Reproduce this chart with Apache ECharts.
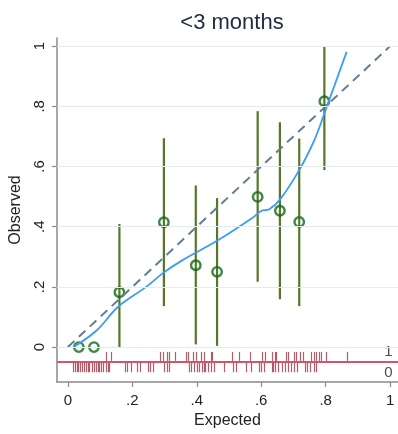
<!DOCTYPE html>
<html>
<head>
<meta charset="utf-8">
<script src="https://cdn.jsdelivr.net/npm/echarts@6/dist/echarts.min.js"></script>
<style>html,body{margin:0;padding:0;background:#fff}#c{width:398px;height:434px}</style>
</head>
<body>
<div id="c"></div>
<script>
// ---- data ----
var groupExpected = [0.034, 0.081, 0.160, 0.298, 0.397, 0.463, 0.589, 0.658, 0.718, 0.796];
var groupObserved = [0, 0, 0.182, 0.415, 0.272, 0.250, 0.499, 0.453, 0.416, 0.817];
var ciLow  = [null, null, 0.000, 0.136, 0.009, 0.004, 0.217, 0.159, 0.136, 0.588];
var ciHigh = [null, null, 0.409, 0.694, 0.537, 0.495, 0.784, 0.747, 0.693, 1.000];
var smoothX = [0.018, 0.09, 0.156, 0.243, 0.294, 0.356, 0.463, 0.571, 0.60, 0.625, 0.658, 0.718, 0.765, 0.796, 0.826, 0.865];
var smoothY = [0.0, 0.056, 0.134, 0.2, 0.245, 0.289, 0.353, 0.428, 0.452, 0.458, 0.49, 0.588, 0.688, 0.776, 0.865, 0.981];
var rugEvents = [0.119, 0.134, 0.286, 0.296, 0.307, 0.315, 0.333, 0.368, 0.373, 0.389, 0.399, 0.412, 0.424, 0.443, 0.448, 0.509, 0.530, 0.565, 0.601, 0.611, 0.632, 0.642, 0.647, 0.678, 0.683, 0.703, 0.709, 0.719, 0.729, 0.755, 0.763, 0.770, 0.780, 0.785, 0.801, 0.865];
var rugNonEvents = [0.016, 0.021, 0.027, 0.033, 0.039, 0.044, 0.049, 0.055, 0.061, 0.067, 0.074, 0.080, 0.086, 0.092, 0.098, 0.104, 0.110, 0.119, 0.124, 0.129,
  0.177, 0.182, 0.197, 0.215, 0.223, 0.248, 0.254, 0.264, 0.297, 0.307, 0.315,
  0.376, 0.381, 0.392, 0.402, 0.407, 0.415, 0.422, 0.427, 0.436, 0.443, 0.453,
  0.484, 0.514, 0.521, 0.552, 0.568, 0.593, 0.599, 0.610, 0.632, 0.637, 0.644, 0.652, 0.663, 0.673, 0.683, 0.693, 0.703, 0.712,
  0.736, 0.742, 0.752, 0.763, 0.770];
var tickValues = [0, 0.2, 0.4, 0.6, 0.8, 1];
var tickLabels = ['0', '.2', '.4', '.6', '.8', '1'];
var titleText = '<3 months';
var xTitle = 'Expected';
var yTitle = 'Observed';

// ---- chart ----
var FONT = 'Liberation Sans, Arial, Helvetica, sans-serif';
var chart = echarts.init(document.getElementById('c'), null, {renderer: 'canvas'});
function fmt(v) {
  for (var i = 0; i < tickValues.length; i++) if (Math.abs(v - tickValues[i]) < 1e-6) return tickLabels[i];
  return '';
}
var ciData = [];
for (var i = 0; i < groupExpected.length; i++) {
  if (ciLow[i] !== null) ciData.push([groupExpected[i], ciLow[i], ciHigh[i]]);
}
function rugItem(y, h) {
  return function (params, api) {
    var a = api.coord([api.value(0), y]);
    var x = Math.round(a[0]) + 0.5;
    return {type: 'line', shape: {x1: x, y1: a[1] - h / 2, x2: x, y2: a[1] + h / 2},
      style: {stroke: 'rgba(150,32,50,0.72)', lineWidth: 1.2}};
  };
}
var option = {
  animation: false,
  backgroundColor: '#ffffff',
  title: {
    text: titleText, left: 227, top: 7, textAlign: 'center',
    textStyle: {fontFamily: FONT, fontSize: 22, fontWeight: 'normal', color: '#1e2b40'}
  },
  grid: {left: 53, right: 0, top: 38, bottom: 52},
  xAxis: {
    type: 'value', min: -0.034, max: 1.0245,
    name: xTitle, nameLocation: 'middle', nameGap: 30,
    nameTextStyle: {fontFamily: FONT, fontSize: 16, color: '#222'},
    axisLine: {show: true, onZero: false, lineStyle: {color: '#8a8a8a', width: 1.5}},
    axisTick: {show: true, length: 5, customValues: tickValues, lineStyle: {color: '#8a8a8a', width: 1.2}},
    axisLabel: {customValues: tickValues, formatter: fmt, margin: 11, fontFamily: FONT, fontSize: 15, color: '#222'},
    splitLine: {show: false}
  },
  yAxis: {
    type: 'value', min: -0.116, max: 1.027,
    name: yTitle, nameLocation: 'middle', nameGap: 30, nameRotate: 90,
    nameTextStyle: {fontFamily: FONT, fontSize: 16, color: '#222'},
    axisLine: {show: true, onZero: false, lineStyle: {color: '#8a8a8a', width: 1.5}},
    axisTick: {show: true, length: 5, customValues: tickValues, lineStyle: {color: '#8a8a8a', width: 1.2}},
    axisLabel: {customValues: tickValues, formatter: fmt, rotate: 90, margin: 10, fontFamily: FONT, fontSize: 15, color: '#222'},
    splitLine: {show: false}
  },
  series: [
    {
      type: 'line', data: [], silent: true,
      markLine: {
        silent: true, symbol: 'none', label: {show: false},
        lineStyle: {color: '#e4ecec', width: 1.2, type: 'solid'},
        data: tickValues.map(function (v) { return {yAxis: v}; })
      }
    },
    {
      type: 'line', data: [], silent: true,
      markLine: {
        silent: true, symbol: 'none', label: {show: false},
        lineStyle: {color: '#d2546e', width: 2, type: 'solid'},
        data: [{yAxis: -0.05}]
      }
    },
    {
      type: 'custom', silent: true, renderItem: rugItem(-0.031, 9),
      encode: {x: 0}, data: rugEvents.map(function (v) { return [v]; })
    },
    {
      type: 'custom', silent: true, renderItem: rugItem(-0.067, 10),
      encode: {x: 0}, data: rugNonEvents.map(function (v) { return [v]; })
    },
    {
      type: 'scatter', silent: true, symbolSize: 0,
      label: {show: true, position: 'inside', formatter: function (p) { return p.data[2]; }, fontFamily: FONT, fontSize: 15, color: '#222'},
      data: [[0.995, -0.016, '1'], [0.995, -0.086, '0']]
    },
    {
      type: 'line', silent: true, showSymbol: false, symbol: 'none',
      lineStyle: {color: '#617d94', width: 2, type: [9, 6]},
      data: [[0, 0], [1, 1]]
    },
    {
      type: 'line', silent: true, showSymbol: false, symbol: 'none', smooth: 0.35,
      lineStyle: {color: '#3b9cf5', width: 1.8},
      data: smoothX.map(function (x, i) { return [x, smoothY[i]]; })
    },
    {
      type: 'custom', silent: true,
      renderItem: function (params, api) {
        var a = api.coord([api.value(0), api.value(1)]);
        var b = api.coord([api.value(0), api.value(2)]);
        return {type: 'line', shape: {x1: a[0], y1: a[1], x2: b[0], y2: b[1]},
          style: {stroke: '#56772a', lineWidth: 2.2}};
      },
      encode: {x: 0, y: [1, 2]},
      data: ciData
    },
    {
      type: 'scatter', silent: true, symbol: 'circle', symbolSize: 9.5,
      itemStyle: {color: 'rgba(0,0,0,0)', borderColor: '#0f6a14', borderWidth: 2.4},
      data: groupExpected.map(function (x, i) { return [x, groupObserved[i]]; })
    }
  ]
};
chart.setOption(option);
</script>
</body>
</html>
